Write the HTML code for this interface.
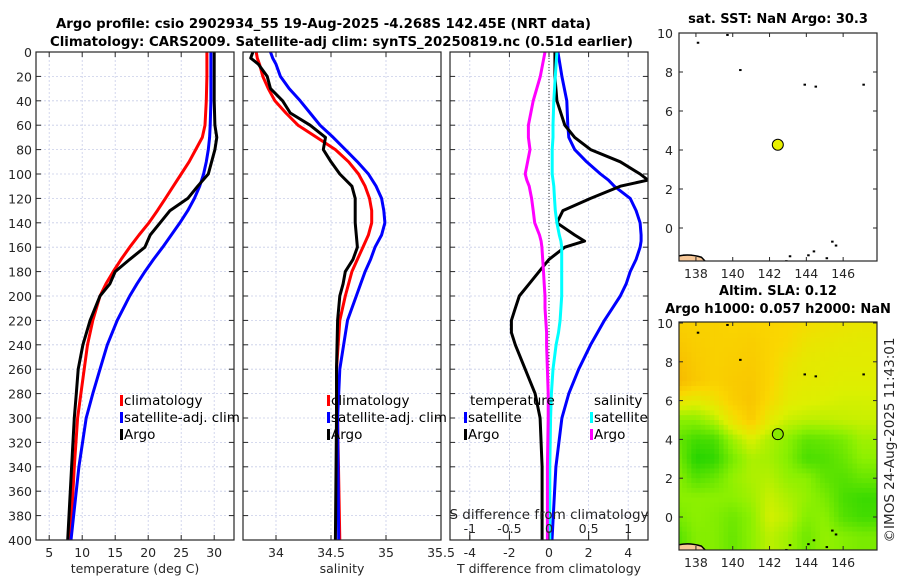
<!DOCTYPE html>
<html><head><meta charset="utf-8"><style>
body{margin:0;background:#fff;}
svg{display:block;font-family:"DejaVu Sans","Liberation Sans",sans-serif;}
</style></head><body>
<svg id="c" width="900" height="580" viewBox="0 0 900 580"></svg>
<script>
// ---- data ----
const depthT = [0,20,40,60,70,80,90,100,110,120,130,140,150,160,170,180,190,200,220,240,260,280,300,340,400];
const tempClim = [28.9,28.9,28.8,28.6,28.2,27.2,26.2,25.0,23.8,22.6,21.4,20.1,18.6,17.2,15.9,14.7,13.6,12.7,11.6,10.8,10.3,9.8,9.3,8.8,8.2];
const tempSat  = [29.5,29.5,29.5,29.4,29.3,29.1,28.8,28.4,27.8,27.0,26.0,24.8,23.5,22.2,20.8,19.5,18.3,17.2,15.3,13.8,12.7,11.6,10.6,9.5,8.3];
const tempArgo = [30.0,30.0,30.0,30.1,30.4,30.1,29.6,29.1,27.5,26.0,23.3,21.8,20.3,19.5,17.2,15.0,14.2,12.7,11.2,10.1,9.4,9.1,8.8,8.4,7.8];
const depthS = [0,5,10,20,30,40,50,60,70,80,90,100,110,120,130,140,150,160,170,180,190,200,220,260,300,400];
const salClim = [33.82,33.83,33.85,33.88,33.93,33.99,34.09,34.2,34.37,34.54,34.66,34.75,34.81,34.85,34.87,34.87,34.84,34.79,34.74,34.69,34.66,34.63,34.58,34.55,34.56,34.58];
const salSat  = [33.95,33.97,34.0,34.04,34.12,34.22,34.31,34.4,34.52,34.63,34.74,34.84,34.91,34.96,34.98,34.99,34.96,34.9,34.86,34.81,34.77,34.73,34.65,34.58,34.56,34.57];
const salArgo = [33.79,33.77,33.84,33.92,33.95,34.06,34.13,34.31,34.45,34.43,34.5,34.58,34.69,34.72,34.72,34.72,34.73,34.74,34.7,34.63,34.61,34.58,34.56,34.55,34.55,34.54];
const depthD = [0,20,40,60,70,80,90,100,105,110,120,130,140,150,155,160,170,180,190,200,210,220,230,240,260,280,300,340,400];
const dTArgo = [0.3,0.3,0.4,0.8,1.3,2.1,3.6,4.6,5.0,3.6,2.1,0.7,0.4,1.3,1.8,0.8,0.0,-0.5,-1.0,-1.5,-1.7,-1.9,-1.9,-1.7,-1.2,-0.7,-0.45,-0.35,-0.35];
const dTSat  = [0.45,0.65,0.9,0.95,1.0,1.3,1.9,2.6,3.0,3.3,4.1,4.4,4.6,4.65,4.65,4.6,4.4,4.1,3.9,3.6,3.2,2.8,2.45,2.1,1.5,1.0,0.65,0.35,0.15];
const dSArgo = [-0.05,-0.11,-0.2,-0.26,-0.26,-0.24,-0.27,-0.3,-0.28,-0.25,-0.22,-0.2,-0.18,-0.12,-0.1,-0.09,-0.08,-0.07,-0.06,-0.05,-0.05,-0.04,-0.03,-0.03,-0.02,-0.01,-0.01,-0.02,-0.02];
const dSSat  = [0.1,0.08,0.06,0.05,0.05,0.04,0.04,0.04,0.05,0.06,0.07,0.08,0.1,0.13,0.15,0.16,0.16,0.16,0.16,0.16,0.15,0.14,0.12,0.09,0.05,0.03,0.02,0.01,0.01];
const depthTicks = [0,20,40,60,80,100,120,140,160,180,200,220,240,260,280,300,320,340,360,380,400];
const tTicks = [5,10,15,20,25,30];
const sTicks = [34,34.5,35,35.5];
const dTTicks = [-4,-2,0,2,4];
const dSTicks = [-1,-0.5,0,0.5,1];
const latTicks = [10,8,6,4,2,0];
const lonTicks = [138,140,142,144,146];
const argoLon = 142.45, argoLat = 4.27;
// SLA field rows lat 10..-2 (top to bottom), cols lon 137..148
const slaLats = [10,9,8,7,6,5,4,3,2,1,0,-1,-2];
const slaLons = [137,138,139,140,141,142,143,144,145,146,147,148];
const slaField = [
 [0.75,0.74,0.74,0.72,0.72,0.72,0.7,0.66,0.62,0.6,0.58,0.58],
 [0.8,0.76,0.74,0.74,0.76,0.72,0.68,0.6,0.58,0.56,0.55,0.55],
 [0.86,0.78,0.74,0.76,0.78,0.72,0.62,0.56,0.55,0.54,0.54,0.54],
 [0.9,0.8,0.74,0.78,0.8,0.72,0.58,0.55,0.54,0.52,0.52,0.52],
 [0.6,0.55,0.62,0.76,0.82,0.68,0.55,0.52,0.5,0.48,0.48,0.48],
 [0.3,0.3,0.4,0.62,0.78,0.55,0.45,0.42,0.42,0.44,0.45,0.45],
 [0.2,0.1,0.12,0.35,0.5,0.38,0.3,0.18,0.2,0.25,0.35,0.35],
 [0.25,0.02,0.05,0.25,0.38,0.36,0.28,0.12,0.14,0.2,0.3,0.3],
 [0.3,0.15,0.2,0.32,0.38,0.4,0.32,0.3,0.18,0.15,0.2,0.2],
 [0.3,0.3,0.3,0.3,0.35,0.45,0.38,0.32,0.25,0.12,0.08,0.08],
 [0.25,0.3,0.28,0.22,0.3,0.48,0.42,0.28,0.3,0.15,0.1,0.1],
 [0.15,0.28,0.28,0.2,0.3,0.42,0.35,0.22,0.32,0.28,0.25,0.25],
 [0.15,0.28,0.28,0.2,0.3,0.42,0.35,0.22,0.32,0.28,0.25,0.25]
];
// ---- helpers ----
const NS="http://www.w3.org/2000/svg", svg=document.getElementById('c');
function mk(tag,at,parent){const e=document.createElementNS(NS,tag);for(const k in at)e.setAttribute(k,at[k]);(parent||svg).appendChild(e);return e;}
function txt(s,x,y,at){const e=mk('text',Object.assign({x:x,y:y,'font-size':12.5,fill:'#262626'},at||{}));e.textContent=s;return e;}
const Y0=52,Y1=540;
const yD=d=>Y0+(d/400)*(Y1-Y0);
const panels=[
 {name:'temperature-panel',x0:36,x1:234,v0:3,v1:33,ticks:tTicks,label:'temperature (deg C)'},
 {name:'salinity-panel',x0:243,x1:441,v0:33.7,v1:35.5,ticks:sTicks,label:'salinity'},
 {name:'difference-panel',x0:450,x1:648,v0:-5,v1:5,ticks:dTTicks,label:'T difference from climatology'}
];
panels.forEach(p=>{p.sx=v=>p.x0+(v-p.v0)/(p.v1-p.v0)*(p.x1-p.x0);});
const P1=panels[0],P2=panels[1],P3=panels[2];
const sxS=v=>P3.sx(v*4);

function drawPanel(p,idx){
 const g=mk('g',{});
 
 
 mk('rect',{x:p.x0,y:Y0,width:p.x1-p.x0,height:Y1-Y0,fill:'#fff'},g);
 depthTicks.forEach(d=>{mk('line',{x1:p.x0,x2:p.x1,y1:yD(d),y2:yD(d),stroke:'#c8cde8','stroke-width':0.8,'stroke-dasharray':'2,2'},g);});
 p.ticks.forEach(v=>{const x=p.sx(v);mk('line',{x1:x,x2:x,y1:Y0,y2:Y1,stroke:'#c8cde8','stroke-width':0.8,'stroke-dasharray':'2,2'},g);
   mk('line',{x1:x,x2:x,y1:Y1,y2:Y1-5,stroke:'#262626'},g);mk('line',{x1:x,x2:x,y1:Y0,y2:Y0+5,stroke:'#262626'},g);
   const t=txt(String(v),x,Y1+17,{'text-anchor':'middle'});});
 depthTicks.forEach(d=>{mk('line',{x1:p.x0,x2:p.x0+5,y1:yD(d),y2:yD(d),stroke:'#262626'},g);mk('line',{x1:p.x1,x2:p.x1-5,y1:yD(d),y2:yD(d),stroke:'#262626'},g);});
 const xl=txt(p.label,(p.x0+p.x1)/2,Y1+33,{'text-anchor':'middle'});
 
 
 return g;
}
function line(arrV,arrD,sx,color,w,name){
 const pts=arrV.map((v,i)=>sx(v).toFixed(1)+','+yD(arrD[i]).toFixed(1)).join(' ');
 const e=mk('polyline',{points:pts,fill:'none',stroke:color,'stroke-width':w,'stroke-linejoin':'round'});
 
 
 return e;
}
function clipTo(p){const id='cl'+p.x0;const cp=mk('clipPath',{id:id});mk('rect',{x:p.x0,y:Y0,width:p.x1-p.x0,height:Y1-Y0},cp);const g=mk('g',{'clip-path':'url(#'+id+')'});return g;}

panels.forEach((p,i)=>drawPanel(p,i));
depthTicks.forEach(d=>{const t=txt(String(d),32,yD(d)+5,{'text-anchor':'end'});});

let g=clipTo(P1);
[ [tempClim,'#ff0000','temp-climatology-line'],[tempSat,'#0000ff','temp-satellite-line'],[tempArgo,'#000000','temp-argo-line'] ].forEach(s=>{g.appendChild(line(s[0],depthT,P1.sx,s[1],3,s[2]));});
g=clipTo(P2);
[ [salClim,'#ff0000','sal-climatology-line'],[salSat,'#0000ff','sal-satellite-line'],[salArgo,'#000000','sal-argo-line'] ].forEach(s=>{g.appendChild(line(s[0],depthS,P2.sx,s[1],3,s[2]));});
g=clipTo(P3);
mk('line',{x1:P3.sx(0),x2:P3.sx(0),y1:Y0,y2:Y1,stroke:'#333','stroke-width':1,'stroke-dasharray':'1,2'},g);
g.appendChild(line(dTSat,depthD,P3.sx,'#0000ff',3,'tdiff-satellite-line'));
g.appendChild(line(dTArgo,depthD,P3.sx,'#000000',3,'tdiff-argo-line'));
g.appendChild(line(dSSat,depthD,sxS,'#00ffff',3,'sdiff-satellite-line'));
g.appendChild(line(dSArgo,depthD,sxS,'#ff00ff',3,'sdiff-argo-line'));
txt('S difference from climatology',549,519,{'text-anchor':'middle','font-size':13.5});
dSTicks.forEach(v=>{const x=sxS(v);txt(String(v),x,533,{'text-anchor':'middle'});mk('line',{x1:x,x2:x,y1:Y1,y2:Y1-9,stroke:'#262626'});});
panels.forEach(p=>mk('rect',{x:p.x0,y:Y0,width:p.x1-p.x0,height:Y1-Y0,fill:'none',stroke:'#262626','stroke-width':1.2}));

function legend(x,y,items,name){const lg=mk('g',{});
 items.forEach((it,i)=>{const yy=y+i*17;if(it[1])mk('rect',{x:x,y:yy-10,width:3,height:11,fill:it[1]},lg);const t=txt(it[0],x+4,yy,{fill:'#000','font-size':13.5});lg.appendChild(t);});}
legend(120,405,[['climatology','#ff0000'],['satellite-adj. clim','#0000ff'],['Argo','#000']],'temperature-legend');
legend(327,405,[['climatology','#ff0000'],['satellite-adj. clim','#0000ff'],['Argo','#000']],'salinity-legend');
txt('temperature',470,405,{fill:'#000','font-size':13.5});
legend(464,422,[['satellite','#0000ff'],['Argo','#000']],'tdiff-legend');
txt('salinity',594,405,{fill:'#000','font-size':13.5});
legend(590,422,[['satellite','#00ffff'],['Argo','#ff00ff']],'sdiff-legend');

const t1=txt('Argo profile: csio 2902934_55 19-Aug-2025 -4.268S 142.45E (NRT data)',56,28,{'font-weight':'bold',fill:'#000','font-size':13,textLength:535,lengthAdjust:'spacingAndGlyphs'});

const t2=txt('Climatology: CARS2009. Satellite-adj clim: synTS_20250819.nc (0.51d earlier)',50,46,{'font-weight':'bold',fill:'#000','font-size':13,textLength:583,lengthAdjust:'spacingAndGlyphs'});


const MX0=679,MX1=877,LON0=137.08,LON1=147.84;
const mx=l=>MX0+(l-LON0)/(LON1-LON0)*(MX1-MX0);
const cstops=[[0,[30,210,0]],[0.3,[140,240,0]],[0.5,[220,240,0]],[0.7,[250,215,0]],[1,[245,170,0]]];
function slaColor(v){v=Math.max(0,Math.min(1,v));for(let i=1;i<cstops.length;i++){if(v<=cstops[i][0]){const a=cstops[i-1],b=cstops[i],t=(v-a[0])/(b[0]-a[0]);return 'rgb('+a[1].map((c,k)=>Math.round(c+t*(b[1][k]-c))).join(',')+')';}}return 'rgb(245,170,0)';}
function sample(lo,la){// bilinear lookup in slaField
 const fi=(10-la), fj=(lo-137);
 const i0=Math.max(0,Math.min(slaLats.length-2,Math.floor(fi))), j0=Math.max(0,Math.min(slaLons.length-2,Math.floor(fj)));
 const ti=Math.max(0,Math.min(1,fi-i0)), tj=Math.max(0,Math.min(1,fj-j0));
 const a=slaField[i0][j0],b=slaField[i0][j0+1],c=slaField[i0+1][j0],d=slaField[i0+1][j0+1];
 return (a*(1-tj)+b*tj)*(1-ti)+(c*(1-tj)+d*tj)*ti;}
function map(top,lat10y,lat0y,bottom,sla,name,title,title2){
 const my=la=>lat0y+(la)*(lat10y-lat0y)/10;
 const mg=mk('g',{});
 const id='mc'+top;const cp=mk('clipPath',{id:id});mk('rect',{x:MX0,y:top,width:MX1-MX0,height:bottom-top},cp);
 const inner=mk('g',{'clip-path':'url(#'+id+')'},mg);
 mk('rect',{x:MX0,y:top,width:MX1-MX0,height:bottom-top,fill:'#fff'},inner);
 if(sla){const st=0.25;for(let la=10.75;la>-2;la-=st){for(let lo=137;lo<148;lo+=st){const c=mk('rect',{x:mx(lo),y:my(la),width:mx(st)-mx(0)+0.4,height:my(0)-my(st)+0.4,fill:slaColor(sample(lo+st/2,la-st/2))},inner);}}}
 mk('path',{d:`M${mx(137)} ${my(-1.45)} Q${mx(137.6)} ${my(-1.3)} ${mx(138.3)} ${my(-1.5)} L${mx(138.8)} ${my(-2)} L${mx(137)} ${my(-2)} Z`,fill:'#f8c898',stroke:'#000','stroke-width':1.5},inner);
 [[138.1,9.5],[139.7,9.9],[140.4,8.1],[143.9,7.35],[144.5,7.25],[147.1,7.35],[143.1,-1.45],[144.1,-1.4],[144.4,-1.2],[145.1,-1.55],[145.4,-0.7],[145.6,-0.9],[142.9,-1.7]].forEach(p=>mk('rect',{x:mx(p[0])-1,y:my(p[1])-1,width:2.5,height:2,fill:'#000'},inner));
 const dot=mk('circle',{cx:mx(argoLon),cy:my(argoLat),r:5.5,fill:sla?'#88e800':'#e8f000',stroke:'#000','stroke-width':1},mg);
 
 mk('rect',{x:MX0,y:top,width:MX1-MX0,height:bottom-top,fill:'none',stroke:'#262626','stroke-width':1.2},mg);
 latTicks.forEach(la=>{const y=my(la);mk('line',{x1:MX0,x2:MX0+4,y1:y,y2:y,stroke:'#262626'},mg);mk('line',{x1:MX1,x2:MX1-4,y1:y,y2:y,stroke:'#262626'},mg);txt(String(la),673,y+5,{'text-anchor':'end'});});
 lonTicks.forEach(lo=>{const x=mx(lo);mk('line',{x1:x,x2:x,y1:bottom,y2:bottom-4,stroke:'#262626'},mg);mk('line',{x1:x,x2:x,y1:top,y2:top+4,stroke:'#262626'},mg);txt(String(lo),x,bottom+17,{'text-anchor':'middle'});});
 txt(title,778,title2?top-27:top-10,{'text-anchor':'middle','font-weight':'bold',fill:'#000','font-size':13});
 if(title2)txt(title2,778,top-9,{'text-anchor':'middle','font-weight':'bold',fill:'#000','font-size':13});
}
map(33,33,228,261,false,'sst-map','sat. SST: NaN Argo: 30.3');
map(322,323,517,550,true,'sla-map','Altim. SLA: 0.12','Argo h1000: 0.057 h2000: NaN');
const cr=txt('\u00A9IMOS 24-Aug-2025 11:43:01',0,0,{'text-anchor':'middle','font-size':13.5,transform:'translate(894,440) rotate(-90)'});

</script>
</body></html>
